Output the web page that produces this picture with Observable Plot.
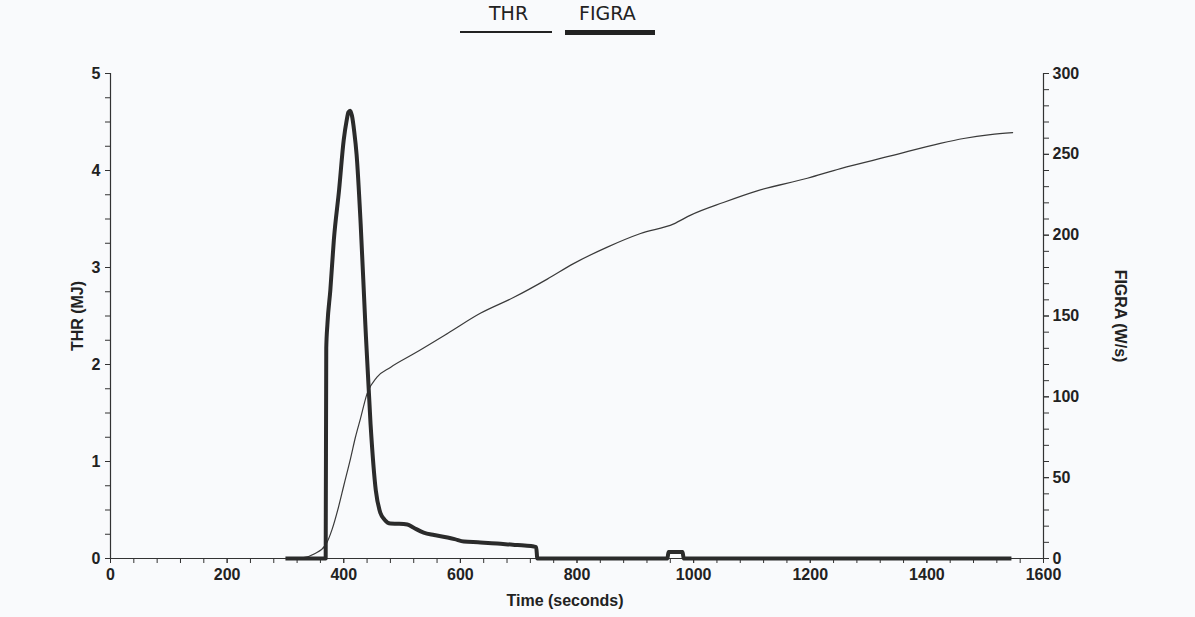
<!DOCTYPE html>
<html>
<head>
<meta charset="utf-8">
<script src="https://cdn.jsdelivr.net/npm/d3@7"></script>
<script src="https://cdn.jsdelivr.net/npm/@observablehq/plot@0.6"></script>
<style>
  html, body { margin: 0; padding: 0; background: #f9fafc; }
  #wrap { position: relative; width: 1195px; height: 617px; overflow: hidden; }
  #chart { position: absolute; left: 0; top: 0; }
  .leg { position: absolute; font-family: "DejaVu Sans", sans-serif; font-size: 19px; color: #222; }
  .legline { position: absolute; background: #222; }
</style>
</head>
<body>
<div id="wrap">
  <div id="chart"></div>
</div>
<script>
// ---- data ----
const thrTime  = [300, 331, 350, 369, 380, 391, 400, 412, 420, 429, 440, 457, 480, 520, 578, 635, 691, 749, 794, 852, 909, 966, 995, 1051, 1109, 1195, 1252, 1338, 1423, 1463, 1509, 1547];
const thrValue = [0, 0.01, 0.05, 0.14, 0.30, 0.53, 0.75, 1.04, 1.25, 1.45, 1.70, 1.87, 1.97, 2.11, 2.32, 2.53, 2.69, 2.88, 3.04, 3.21, 3.35, 3.45, 3.54, 3.67, 3.79, 3.92, 4.02, 4.15, 4.28, 4.33, 4.37, 4.39];

const figraTime  = [300, 369, 370, 372, 377, 383, 392, 400, 405, 408, 411, 414, 418, 422, 429, 437, 446, 455, 463, 470, 480, 495, 509, 520, 537, 555, 578, 590, 606, 630, 663, 690, 710, 726, 730, 732, 955, 957, 981, 983, 1545];
const figraValue = [0, 0, 130, 145, 166, 197, 228, 259, 271, 276, 277, 274, 264, 250, 207, 145, 83, 42, 28, 24, 21.6, 21.5, 21, 19, 16, 14.5, 13, 12, 10.5, 10, 9.3, 8.5, 8, 7.4, 7, 0, 0, 4, 4, 0, 0];

const xMajor = d3.range(0, 1601, 200);
const xMinor = d3.range(0, 1601, 40);
const thrMajor = d3.range(0, 5.001, 1);
const thrMinor = d3.range(0, 5.001, 0.25);
const figraMajor = d3.range(0, 301, 50);
const figraMinor = d3.range(0, 301, 10);
const FIGRA_MAX = 300, THR_MAX = 5;
const toThr = f => f * THR_MAX / FIGRA_MAX;

const legendItems = [
  {name: "THR", width: 1.5},
  {name: "FIGRA", width: 5}
];

const thr = thrTime.map((t, i) => ({t, v: thrValue[i]}));
const figra = figraTime.map((t, i) => ({t, f: figraValue[i]}));

const tickFont = {fontFamily: "Liberation Sans, Arial, sans-serif", fontSize: 16, fontWeight: "bold", fill: "#222"};
const axisStroke = "#333";

const chart = Plot.plot({
  width: 1195,
  height: 617,
  marginTop: 73,
  marginBottom: 59,
  marginLeft: 110,
  marginRight: 152,
  style: {background: "transparent", color: "#222", overflow: "visible"},
  x: {domain: [0, 1600]},
  y: {domain: [0, 5]},
  marks: [
    // minor ticks
    Plot.axisX(xMinor, {tickSize: 5, tickFormat: () => "", stroke: axisStroke, label: null}),
    Plot.axisY(thrMinor, {anchor: "left", tickSize: 5, tickFormat: () => "", stroke: axisStroke, label: null}),
    Plot.axisY(figraMinor.map(toThr), {anchor: "right", tickSize: 5, tickFormat: () => "", stroke: axisStroke, label: null}),
    // major ticks + labels
    Plot.axisX(xMajor, {tickSize: 5, tickPadding: 5, stroke: axisStroke, label: null, tickFormat: d => String(d), ...tickFont}),
    Plot.axisY(thrMajor, {anchor: "left", tickSize: 5, tickPadding: 5, stroke: axisStroke, label: null, tickFormat: d => String(Math.round(d)), ...tickFont}),
    Plot.axisY(figraMajor.map(toThr), {anchor: "right", tickSize: 5, tickPadding: 4, stroke: axisStroke, label: null,
      tickFormat: d => String(Math.round(d * FIGRA_MAX / THR_MAX)), ...tickFont}),
    // axis lines
    Plot.ruleX([0, 1600], {stroke: axisStroke, strokeWidth: 1.2}),
    Plot.ruleY([0], {stroke: axisStroke, strokeWidth: 1.2}),
    // series
    Plot.line(thr, {x: "t", y: "v", stroke: "#3a3a3a", strokeWidth: 1.2, curve: "monotone-x"}),
    Plot.line(figra, {x: "t", y: d => toThr(d.f), stroke: "#2b2b2b", strokeWidth: 4, strokeLinejoin: "round", strokeLinecap: "butt", curve: "monotone-x"}),
    // axis titles
    Plot.text(["THR (MJ)"], {frameAnchor: "left", dx: -33, rotate: -90, textAnchor: "middle", ...tickFont}),
    Plot.text(["FIGRA (W/s)"], {frameAnchor: "right", dx: 77, rotate: 90, textAnchor: "middle", ...tickFont}),
    Plot.text(["Time (seconds)"], {frameAnchor: "bottom", dx: -12, dy: 47, textAnchor: "middle", ...tickFont})
  ]
});
document.getElementById("chart").appendChild(chart);

// legend (HTML above the plot area)
const wrap = document.getElementById("wrap");
const legendPos = [
  {textLeft: 489, lineLeft: 460, lineWidth: 92},
  {textLeft: 579, lineLeft: 565, lineWidth: 90}
];
legendItems.forEach((item, i) => {
  const p = legendPos[i];
  const label = document.createElement("div");
  label.className = "leg";
  label.textContent = item.name;
  label.style.left = p.textLeft + "px";
  label.style.top = "2px";
  wrap.appendChild(label);
  const line = document.createElement("div");
  line.className = "legline";
  line.style.left = p.lineLeft + "px";
  line.style.width = p.lineWidth + "px";
  line.style.height = item.width + "px";
  line.style.top = (32 - item.width / 2) + "px";
  wrap.appendChild(line);
});
</script>
</body>
</html>
